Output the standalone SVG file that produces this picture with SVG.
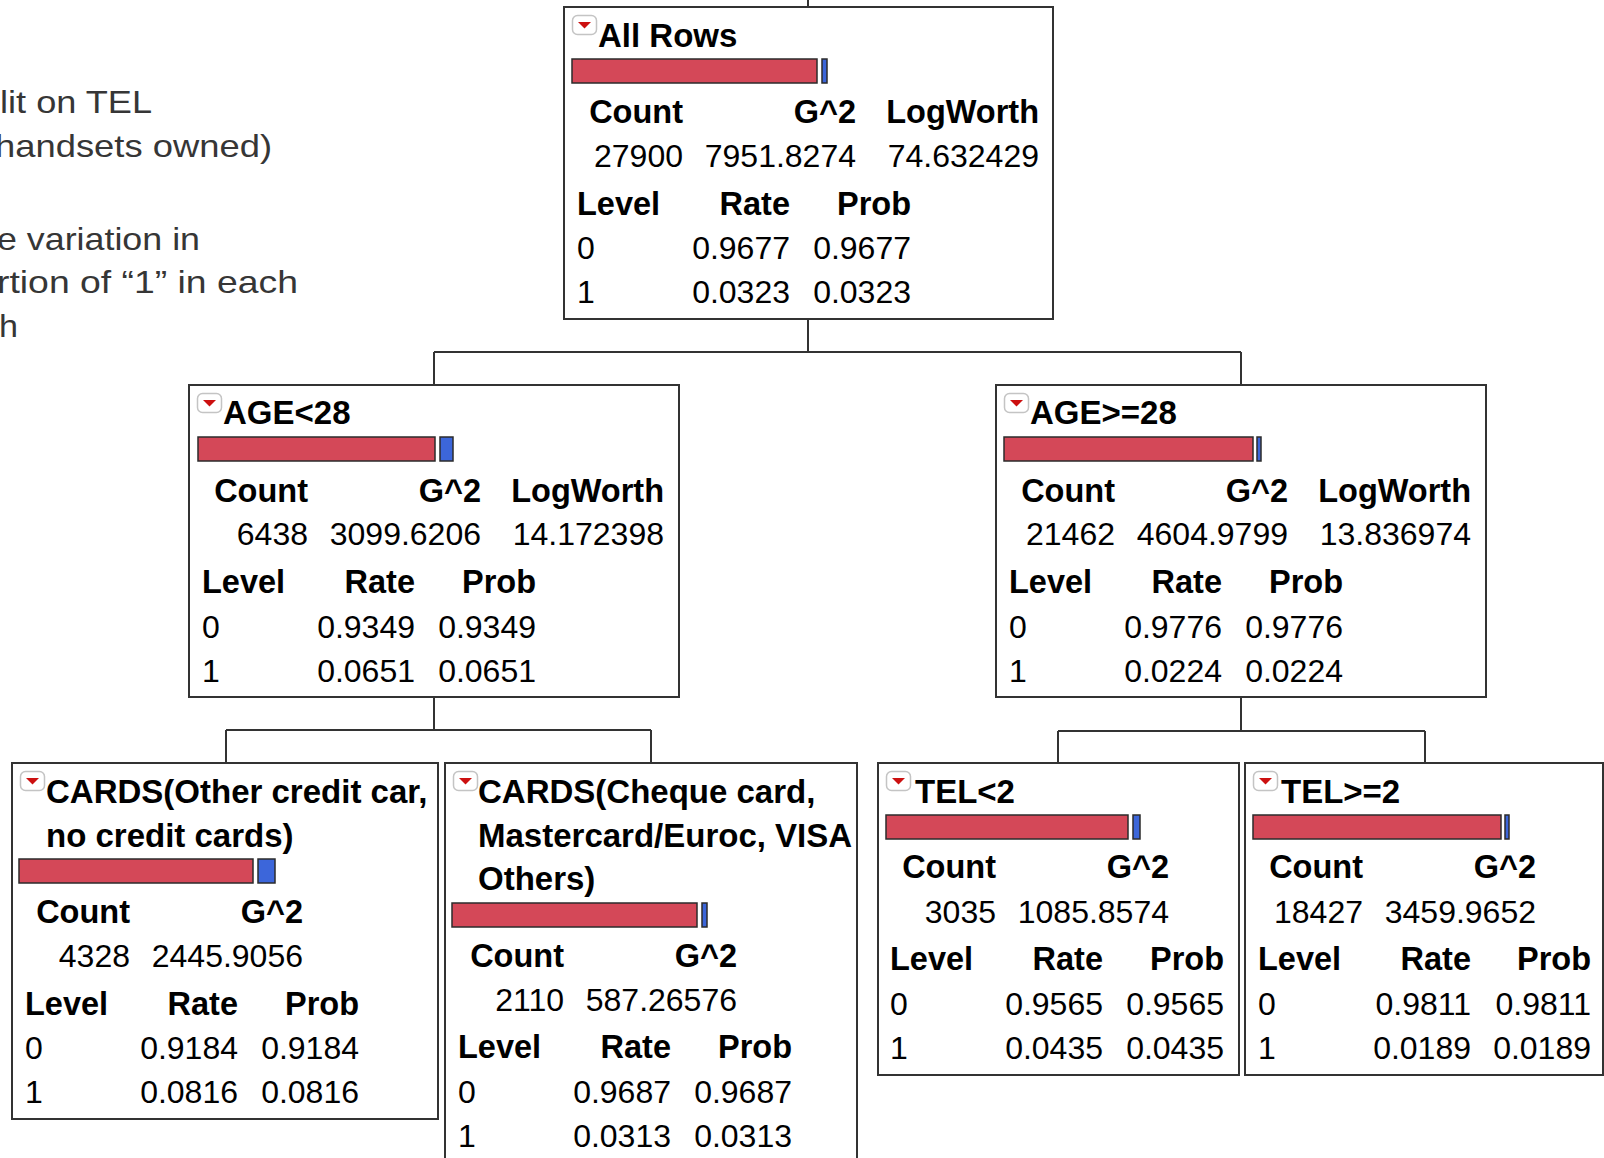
<svg xmlns="http://www.w3.org/2000/svg" width="1604" height="1158" viewBox="0 0 1604 1158">
  <style>
    .box { fill: #fff; stroke: #333; stroke-width: 2; }
    .conn { fill: none; stroke: #333; stroke-width: 2; }
    .h { font-family: "Liberation Sans", Arial, sans-serif; font-weight: bold; font-size: 32.5px; fill: #000; }
    .t { font-family: "Liberation Sans", Arial, sans-serif; font-weight: bold; font-size: 33px; fill: #000; }
    .v { font-family: "Liberation Sans", Arial, sans-serif; font-size: 32px; fill: #000; }
    .r { text-anchor: end; }
    .red { fill: #D44858; stroke: #2b2b2b; stroke-width: 1.5; }
    .blue { fill: #3C66DA; stroke: #2b2b2b; stroke-width: 1.5; }
    .note { font-family: "Liberation Sans", Arial, sans-serif; font-size: 31.5px; fill: #363636; }
  </style>
  <defs>
    <!-- disclosure toggle shown at the top-left of every node -->
    <g id="toggle">
      <rect x="0.5" y="0.5" width="24" height="19" rx="5" fill="#fff" stroke="#c4c4c4" stroke-width="1.5"/>
      <polygon points="6,7 19,7 12.5,13.5" fill="#cc1010"/>
    </g>
  </defs>

  <rect width="1604" height="1158" fill="#fff"/>

  <!-- side note -->
  <g id="note">
    <text class="note" x="0" y="113" textLength="152" lengthAdjust="spacingAndGlyphs">lit on TEL</text>
    <text class="note" x="-5" y="157" textLength="277" lengthAdjust="spacingAndGlyphs">handsets owned)</text>
    <text class="note" x="-3" y="250" textLength="203" lengthAdjust="spacingAndGlyphs">e variation in</text>
    <text class="note" x="-3" y="293" textLength="301" lengthAdjust="spacingAndGlyphs">rtion of “1” in each</text>
    <text class="note" x="-1" y="337" textLength="19" lengthAdjust="spacingAndGlyphs">h</text>
  </g>

  <!-- tree connectors -->
  <g id="connectors" class="conn">
    <path d="M808,0 V7"/>
    <path d="M808,319 V352 M434,352 H1241 M434,352 V385 M1241,352 V385"/>
    <path d="M434,697 V730 M226,730 H651 M226,730 V763 M651,730 V763"/>
    <path d="M1241,697 V731 M1058,731 H1425 M1058,731 V763 M1425,731 V763"/>
  </g>

  <!-- root -->
  <g id="node-all-rows">
    <rect class="box" x="564" y="7" width="489" height="312"/>
    <use href="#toggle" x="572" y="15"/>
    <text class="t" x="598" y="47">All Rows</text>
    <rect class="red" x="572" y="59" width="245" height="24"/>
    <rect class="blue" x="822" y="59" width="5" height="24"/>
    <text class="h r" x="683" y="123">Count</text>
    <text class="h r" x="856" y="123">G^2</text>
    <text class="h r" x="1039" y="123">LogWorth</text>
    <text class="v r" x="683" y="167">27900</text>
    <text class="v r" x="856" y="167">7951.8274</text>
    <text class="v r" x="1039" y="167">74.632429</text>
    <text class="h" x="577" y="215">Level</text>
    <text class="h r" x="790" y="215">Rate</text>
    <text class="h r" x="911" y="215">Prob</text>
    <text class="v" x="577" y="259">0</text>
    <text class="v r" x="790" y="259">0.9677</text>
    <text class="v r" x="911" y="259">0.9677</text>
    <text class="v" x="577" y="303">1</text>
    <text class="v r" x="790" y="303">0.0323</text>
    <text class="v r" x="911" y="303">0.0323</text>
  </g>

  <!-- AGE<28 -->
  <g id="node-age-lt-28">
    <rect class="box" x="189" y="385" width="490" height="312"/>
    <use href="#toggle" x="197" y="393"/>
    <text class="t" x="223" y="424">AGE&lt;28</text>
    <rect class="red" x="198" y="437" width="237" height="24"/>
    <rect class="blue" x="440" y="437" width="13" height="24"/>
    <text class="h r" x="308" y="502">Count</text>
    <text class="h r" x="481" y="502">G^2</text>
    <text class="h r" x="664" y="502">LogWorth</text>
    <text class="v r" x="308" y="545">6438</text>
    <text class="v r" x="481" y="545">3099.6206</text>
    <text class="v r" x="664" y="545">14.172398</text>
    <text class="h" x="202" y="593">Level</text>
    <text class="h r" x="415" y="593">Rate</text>
    <text class="h r" x="536" y="593">Prob</text>
    <text class="v" x="202" y="638">0</text>
    <text class="v r" x="415" y="638">0.9349</text>
    <text class="v r" x="536" y="638">0.9349</text>
    <text class="v" x="202" y="682">1</text>
    <text class="v r" x="415" y="682">0.0651</text>
    <text class="v r" x="536" y="682">0.0651</text>
  </g>

  <!-- AGE>=28 -->
  <g id="node-age-ge-28">
    <rect class="box" x="996" y="385" width="490" height="312"/>
    <use href="#toggle" x="1004" y="393"/>
    <text class="t" x="1030" y="424">AGE&gt;=28</text>
    <rect class="red" x="1004" y="437" width="249" height="24"/>
    <rect class="blue" x="1257" y="437" width="4" height="24"/>
    <text class="h r" x="1115" y="502">Count</text>
    <text class="h r" x="1288" y="502">G^2</text>
    <text class="h r" x="1471" y="502">LogWorth</text>
    <text class="v r" x="1115" y="545">21462</text>
    <text class="v r" x="1288" y="545">4604.9799</text>
    <text class="v r" x="1471" y="545">13.836974</text>
    <text class="h" x="1009" y="593">Level</text>
    <text class="h r" x="1222" y="593">Rate</text>
    <text class="h r" x="1343" y="593">Prob</text>
    <text class="v" x="1009" y="638">0</text>
    <text class="v r" x="1222" y="638">0.9776</text>
    <text class="v r" x="1343" y="638">0.9776</text>
    <text class="v" x="1009" y="682">1</text>
    <text class="v r" x="1222" y="682">0.0224</text>
    <text class="v r" x="1343" y="682">0.0224</text>
  </g>

  <!-- CARDS(Other credit car, no credit cards) -->
  <g id="node-cards-other">
    <rect class="box" x="12" y="763" width="426" height="356"/>
    <use href="#toggle" x="20" y="771"/>
    <text class="t" x="46" y="803">CARDS(Other credit car,</text>
    <text class="t" x="46" y="847">no credit cards)</text>
    <rect class="red" x="19" y="859" width="234" height="24"/>
    <rect class="blue" x="258" y="859" width="17" height="24"/>
    <text class="h r" x="130" y="923">Count</text>
    <text class="h r" x="303" y="923">G^2</text>
    <text class="v r" x="130" y="967">4328</text>
    <text class="v r" x="303" y="967">2445.9056</text>
    <text class="h" x="25" y="1015">Level</text>
    <text class="h r" x="238" y="1015">Rate</text>
    <text class="h r" x="359" y="1015">Prob</text>
    <text class="v" x="25" y="1059">0</text>
    <text class="v r" x="238" y="1059">0.9184</text>
    <text class="v r" x="359" y="1059">0.9184</text>
    <text class="v" x="25" y="1103">1</text>
    <text class="v r" x="238" y="1103">0.0816</text>
    <text class="v r" x="359" y="1103">0.0816</text>
  </g>

  <!-- CARDS(Cheque card, Mastercard/Euroc, VISA Others) -->
  <g id="node-cards-cheque">
    <rect class="box" x="445" y="763" width="412" height="400"/>
    <use href="#toggle" x="453" y="771"/>
    <text class="t" x="478" y="803">CARDS(Cheque card,</text>
    <text class="t" x="478" y="847">Mastercard/Euroc, VISA</text>
    <text class="t" x="478" y="890">Others)</text>
    <rect class="red" x="452" y="903" width="245" height="24"/>
    <rect class="blue" x="702" y="903" width="5" height="24"/>
    <text class="h r" x="564" y="967">Count</text>
    <text class="h r" x="737" y="967">G^2</text>
    <text class="v r" x="564" y="1011">2110</text>
    <text class="v r" x="737" y="1011">587.26576</text>
    <text class="h" x="458" y="1058">Level</text>
    <text class="h r" x="671" y="1058">Rate</text>
    <text class="h r" x="792" y="1058">Prob</text>
    <text class="v" x="458" y="1103">0</text>
    <text class="v r" x="671" y="1103">0.9687</text>
    <text class="v r" x="792" y="1103">0.9687</text>
    <text class="v" x="458" y="1147">1</text>
    <text class="v r" x="671" y="1147">0.0313</text>
    <text class="v r" x="792" y="1147">0.0313</text>
  </g>

  <!-- TEL<2 -->
  <g id="node-tel-lt-2">
    <rect class="box" x="878" y="763" width="361" height="312"/>
    <use href="#toggle" x="886" y="771"/>
    <text class="t" x="915" y="803">TEL&lt;2</text>
    <rect class="red" x="886" y="815" width="242" height="24"/>
    <rect class="blue" x="1133" y="815" width="7" height="24"/>
    <text class="h r" x="996" y="878">Count</text>
    <text class="h r" x="1169" y="878">G^2</text>
    <text class="v r" x="996" y="923">3035</text>
    <text class="v r" x="1169" y="923">1085.8574</text>
    <text class="h" x="890" y="970">Level</text>
    <text class="h r" x="1103" y="970">Rate</text>
    <text class="h r" x="1224" y="970">Prob</text>
    <text class="v" x="890" y="1015">0</text>
    <text class="v r" x="1103" y="1015">0.9565</text>
    <text class="v r" x="1224" y="1015">0.9565</text>
    <text class="v" x="890" y="1059">1</text>
    <text class="v r" x="1103" y="1059">0.0435</text>
    <text class="v r" x="1224" y="1059">0.0435</text>
  </g>

  <!-- TEL>=2 -->
  <g id="node-tel-ge-2">
    <rect class="box" x="1245" y="763" width="358" height="312"/>
    <use href="#toggle" x="1253" y="771"/>
    <text class="t" x="1281" y="803">TEL&gt;=2</text>
    <rect class="red" x="1253" y="815" width="248" height="24"/>
    <rect class="blue" x="1505" y="815" width="4" height="24"/>
    <text class="h r" x="1363" y="878">Count</text>
    <text class="h r" x="1536" y="878">G^2</text>
    <text class="v r" x="1363" y="923">18427</text>
    <text class="v r" x="1536" y="923">3459.9652</text>
    <text class="h" x="1258" y="970">Level</text>
    <text class="h r" x="1471" y="970">Rate</text>
    <text class="h r" x="1591" y="970">Prob</text>
    <text class="v" x="1258" y="1015">0</text>
    <text class="v r" x="1471" y="1015">0.9811</text>
    <text class="v r" x="1591" y="1015">0.9811</text>
    <text class="v" x="1258" y="1059">1</text>
    <text class="v r" x="1471" y="1059">0.0189</text>
    <text class="v r" x="1591" y="1059">0.0189</text>
  </g>
</svg>
